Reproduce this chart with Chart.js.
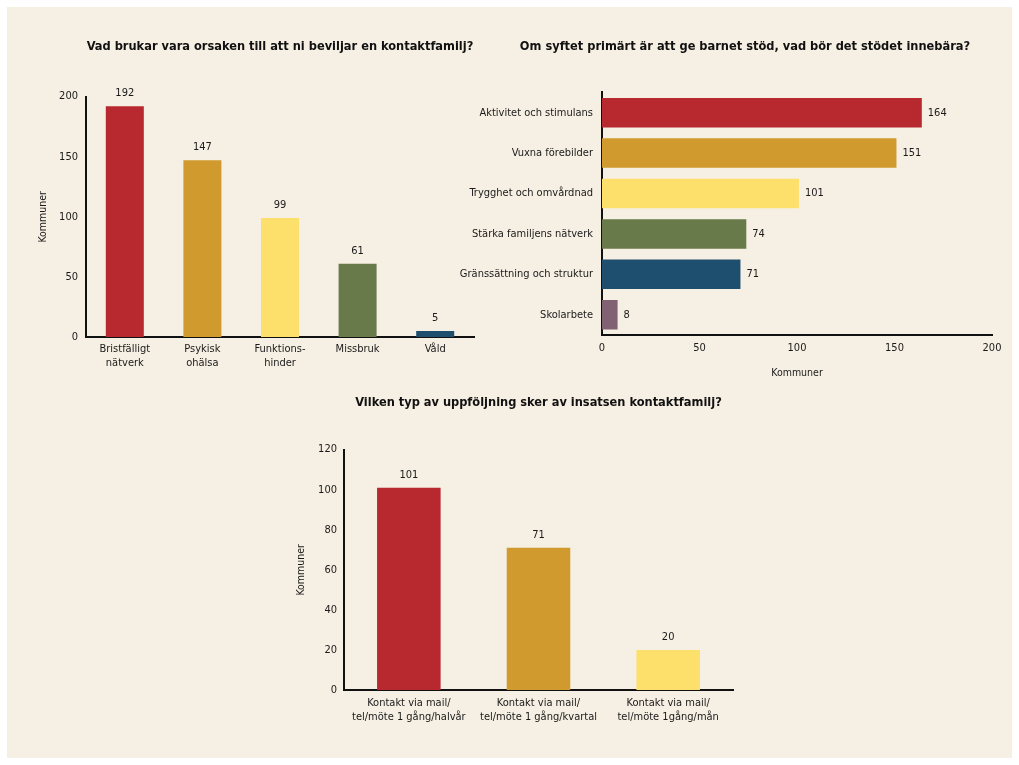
<!DOCTYPE html>
<html>
<head>
<meta charset="utf-8">
<script src="https://cdn.jsdelivr.net/npm/chart.js@4/dist/chart.umd.min.js"></script>
<style>
  body { margin: 0; background: #ffffff; overflow: hidden; }
  #panel { position: absolute; left: 7px; top: 7px; width: 1005px; height: 751px; background: #f6efe3; }
  .box { position: absolute; }
  #box1 { left: 20px; top: 25px; width: 470px; height: 360px; }
  #box2 { left: 455px; top: 25px; width: 580px; height: 370px; }
  #box3 { left: 280px; top: 380px; width: 480px; height: 360px; }
</style>
</head>
<body>
<div id="panel"></div>
<div class="box" id="box1"><canvas id="c1"></canvas></div>
<div class="box" id="box2"><canvas id="c2"></canvas></div>
<div class="box" id="box3"><canvas id="c3"></canvas></div>
<script>
const FONT = "'Liberation Sans Narrow', 'DejaVu Sans Condensed', sans-serif";

// chart 1
const reasonLabels = [['Bristfälligt', 'nätverk'], ['Psykisk', 'ohälsa'], ['Funktions-', 'hinder'], 'Missbruk', 'Våld'];
const reasonValues = [192, 147, 99, 61, 5];
const reasonTicks = [0, 50, 100, 150, 200];

// chart 2
const supportLabels = ['Aktivitet och stimulans', 'Vuxna förebilder', 'Trygghet och omvårdnad', 'Stärka familjens nätverk', 'Gränssättning och struktur', 'Skolarbete'];
const supportValues = [164, 151, 101, 74, 71, 8];
const supportTicks = [0, 50, 100, 150, 200];

// chart 3
const followLabels = [['Kontakt via mail/', 'tel/möte 1 gång/halvår'], ['Kontakt via mail/', 'tel/möte 1 gång/kvartal'], ['Kontakt via mail/', 'tel/möte 1gång/mån']];
const followValues = [101, 71, 20];
const followTicks = [0, 20, 40, 60, 80, 100, 120];

const palette = ['#b8282f', '#d09a2e', '#fddf6c', '#697a4a', '#1f4f6f', '#806272'];

Chart.defaults.font.family = FONT;
Chart.defaults.font.size = 11;
Chart.defaults.color = '#1a1a1a';
Chart.defaults.animation = false;

const valueLabels = {
    id: 'valueLabels',
    afterDatasetsDraw(chart) {
        const ctx = chart.ctx;
        const horizontal = chart.options.indexAxis === 'y';
        const meta = chart.getDatasetMeta(0);
        ctx.save();
        ctx.font = '11px ' + FONT;
        ctx.fillStyle = '#1a1a1a';
        ctx.textBaseline = 'middle';
        meta.data.forEach((bar, i) => {
            const v = chart.data.datasets[0].data[i];
            if (horizontal) {
                ctx.textAlign = 'left';
                ctx.fillText(v, bar.x + 6, bar.y);
            } else {
                ctx.textAlign = 'center';
                ctx.fillText(v, bar.x, bar.y - 13);
            }
        });
        ctx.restore();
    }
};

const fixedTicks = list => scale => {
    scale.ticks = list.map(v => ({ value: v }));
};

const titleFont = { family: FONT, size: 12.7, weight: 'bold' };
const axisTitleFont = { family: FONT, size: 10.5 };
const border = { display: true, color: '#111', width: 2 };
const noGrid = { display: false, drawTicks: false };

new Chart(document.querySelector('#c1'), {
    type: 'bar',
    data: {
        labels: reasonLabels,
        datasets: [{ data: reasonValues, backgroundColor: palette.slice(0, 5), categoryPercentage: 1, barPercentage: 0.49 }]
    },
    options: {
        responsive: true,
        maintainAspectRatio: false,
        layout: { padding: { left: 0, right: 16, top: 0, bottom: 0 } },
        plugins: {
            legend: { display: false },
            tooltip: { enabled: false },
            title: { display: true, text: 'Vad brukar vara orsaken till att ni beviljar en kontaktfamilj?', font: titleFont, color: '#111', fullSize: false, padding: { top: 14.4, bottom: 42 } }
        },
        scales: {
            x: {
                grid: noGrid,
                border,
                ticks: { padding: 6, maxRotation: 0, autoSkip: false },
                afterFit: s => { s.height = 48; }
            },
            y: {
                min: 0, max: 200,
                grid: noGrid,
                border,
                ticks: { padding: 8 },
                afterBuildTicks: fixedTicks(reasonTicks),
                title: { display: true, text: 'Kommuner', font: axisTitleFont, padding: { top: 16.7, bottom: 0 } },
                afterFit: s => { s.width = 66; }
            }
        }
    },
    plugins: [valueLabels]
});

new Chart(document.querySelector('#c2'), {
    type: 'bar',
    data: {
        labels: supportLabels,
        datasets: [{ data: supportValues, backgroundColor: palette, categoryPercentage: 1, barPercentage: 0.73 }]
    },
    options: {
        indexAxis: 'y',
        responsive: true,
        maintainAspectRatio: false,
        layout: { padding: 0 },
        plugins: {
            legend: { display: false },
            tooltip: { enabled: false },
            title: { display: true, text: 'Om syftet primärt är att ge barnet stöd, vad bör det stödet innebära?', font: titleFont, color: '#111', padding: { top: 14.4, bottom: 37.8 } }
        },
        scales: {
            x: {
                min: 0, max: 200,
                grid: noGrid,
                border,
                ticks: { padding: 7 },
                afterBuildTicks: fixedTicks(supportTicks),
                title: { display: true, text: 'Kommuner', font: axisTitleFont, padding: { top: 0, bottom: 15.7 } },
                afterFit: s => { s.height = 60; }
            },
            y: {
                grid: noGrid,
                border,
                ticks: { padding: 9, autoSkip: false },
                afterFit: s => { s.width = 147; }
            },
            // empty right-hand axis, only keeps the title centred where the original has it
            spacer: {
                type: 'linear',
                position: 'right',
                grid: { display: false },
                border: { display: false },
                ticks: { display: false },
                afterFit: s => { s.width = 43; }
            }
        }
    },
    plugins: [valueLabels]
});

new Chart(document.querySelector('#c3'), {
    type: 'bar',
    data: {
        labels: followLabels,
        datasets: [{ data: followValues, backgroundColor: palette.slice(0, 3), categoryPercentage: 1, barPercentage: 0.49 }]
    },
    options: {
        responsive: true,
        maintainAspectRatio: false,
        layout: { padding: { left: 0, right: 27, top: 0, bottom: 0 } },
        plugins: {
            legend: { display: false },
            tooltip: { enabled: false },
            title: { display: true, text: 'Vilken typ av uppföljning sker av insatsen kontaktfamilj?', font: titleFont, color: '#111', fullSize: false, padding: { top: 15.4, bottom: 39 } }
        },
        scales: {
            x: {
                grid: noGrid,
                border,
                ticks: { padding: 7, maxRotation: 0, autoSkip: false },
                afterFit: s => { s.height = 50; }
            },
            y: {
                min: 0, max: 120,
                grid: noGrid,
                border,
                ticks: { padding: 7 },
                afterBuildTicks: fixedTicks(followTicks),
                title: { display: true, text: 'Kommuner', font: axisTitleFont, padding: { top: 14.7, bottom: 0 } },
                afterFit: s => { s.width = 64; }
            }
        }
    },
    plugins: [valueLabels]
});
</script>
</body>
</html>
